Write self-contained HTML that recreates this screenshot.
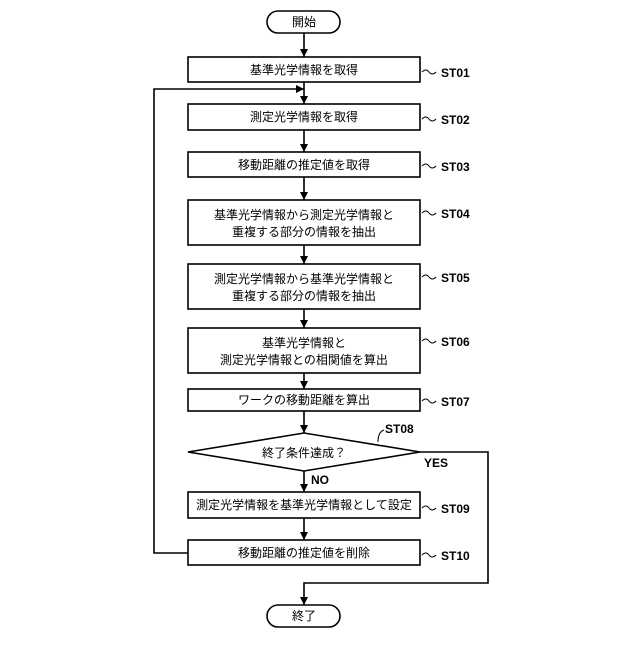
<!DOCTYPE html>
<html><head><meta charset="utf-8"><style>
body{margin:0;background:#fff}
svg text{font-family:"Liberation Sans","Noto Sans CJK JP",sans-serif;font-size:12px;fill:#000}
</style></head><body>
<svg width="640" height="640" viewBox="0 0 640 640" xmlns="http://www.w3.org/2000/svg">
<defs><marker id="a" markerWidth="8" markerHeight="8" refX="4" refY="7" orient="auto" markerUnits="userSpaceOnUse"><path d="M0,0 L8,0 L4,8 z" transform="rotate(-90 4 4) rotate(90 4 4)" fill="#000"/></marker></defs>
<g fill="none" stroke="#000" stroke-width="1.6">
<rect x="267" y="11" width="73" height="22" rx="11"/>
<rect x="188" y="57" width="232" height="25"/>
<rect x="188" y="104" width="232" height="26"/>
<rect x="188" y="152" width="232" height="25"/>
<rect x="188" y="200" width="232" height="45"/>
<rect x="188" y="264" width="232" height="45"/>
<rect x="188" y="328" width="232" height="45"/>
<rect x="188" y="389" width="232" height="22"/>
<path d="M188,452 L304,433 L420,452 L304,471 Z"/>
<rect x="188" y="492" width="232" height="26"/>
<rect x="188" y="540" width="232" height="25"/>
<rect x="267" y="605" width="73" height="22" rx="11"/>
<path d="M304,33V57M304,82V104M304,130V152M304,177V200M304,245V264M304,309V328M304,373V389M304,411V433M304,471V492M304,518V540"/>
<path d="M188,553H154V89H304"/>
<path d="M420,452H488V583H304V605"/>
<path d="M422,72q4,-4 7,0t7,0M422,119q4,-4 7,0t7,0M422,166q4,-4 7,0t7,0M422,213q4,-4 7,0t7,0M422,277q4,-4 7,0t7,0M422,341q4,-4 7,0t7,0M422,401q4,-4 7,0t7,0M422,508q4,-4 7,0t7,0M422,555q4,-4 7,0t7,0" stroke-width="1"/>
<path d="M378,442q0,-10 6,-12" stroke-width="1"/>
</g>
<g fill="#000">
<path d="M300,49h8l-4,8z"/><path d="M300,96h8l-4,8z"/><path d="M300,144h8l-4,8z"/><path d="M300,192h8l-4,8z"/><path d="M300,256h8l-4,8z"/><path d="M300,320h8l-4,8z"/><path d="M300,381h8l-4,8z"/><path d="M300,425h8l-4,8z"/><path d="M300,484h8l-4,8z"/><path d="M300,532h8l-4,8z"/><path d="M300,597h8l-4,8z"/>
<path d="M296,85l8,4l-8,4z"/>
</g>
<g text-anchor="middle">
<text x="304" y="26">開始</text>
<text x="304" y="74">基準光学情報を取得</text>
<text x="304" y="121">測定光学情報を取得</text>
<text x="304" y="169">移動距離の推定値を取得</text>
<text x="304" y="219">基準光学情報から測定光学情報と</text>
<text x="304" y="236">重複する部分の情報を抽出</text>
<text x="304" y="283">測定光学情報から基準光学情報と</text>
<text x="304" y="300">重複する部分の情報を抽出</text>
<text x="304" y="347">基準光学情報と</text>
<text x="304" y="364">測定光学情報との相関値を算出</text>
<text x="304" y="404">ワークの移動距離を算出</text>
<text x="304" y="457">終了条件達成？</text>
<text x="304" y="509">測定光学情報を基準光学情報として設定</text>
<text x="304" y="557">移動距離の推定値を削除</text>
<text x="304" y="620">終了</text>
</g>
<g font-weight="bold">
<text x="441" y="77">ST01</text><text x="441" y="124">ST02</text><text x="441" y="171">ST03</text>
<text x="441" y="218">ST04</text><text x="441" y="282">ST05</text><text x="441" y="346">ST06</text>
<text x="441" y="406">ST07</text><text x="385" y="433">ST08</text><text x="441" y="513">ST09</text><text x="441" y="560">ST10</text>
<text x="424" y="467">YES</text><text x="311" y="484">NO</text>
</g>
</svg>
</body></html>
